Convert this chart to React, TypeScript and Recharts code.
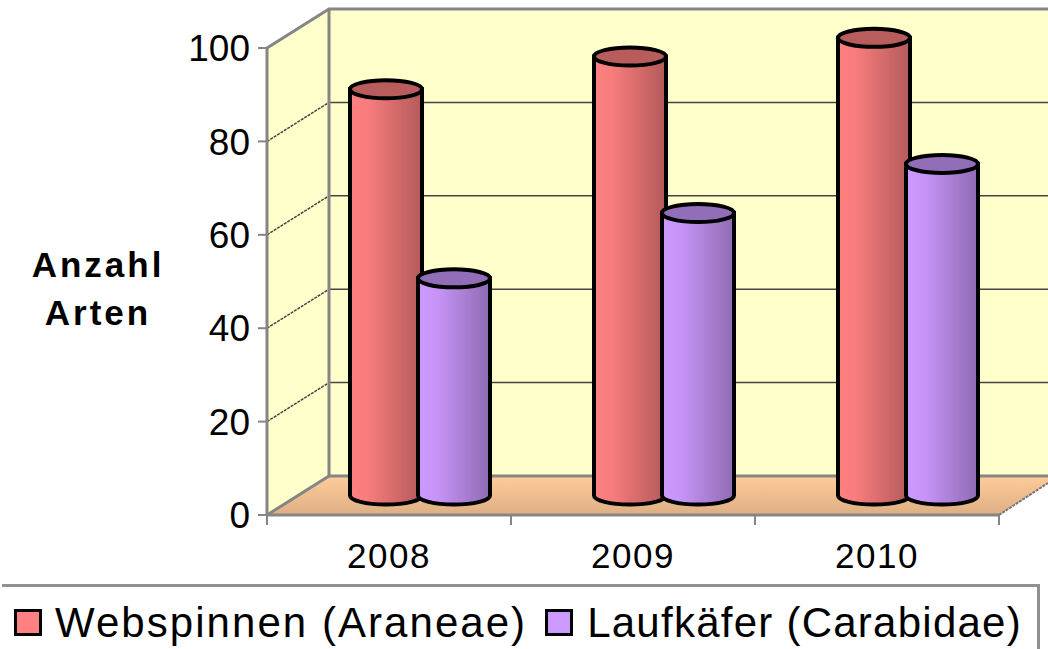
import { Bar, BarChart, Legend, XAxis, YAxis, usePlotArea } from "recharts";

const years = ["2008", "2009", "2010"];
const webspinnen = [87, 94, 98];
const laufkaefer = [46.5, 60.5, 71];
const yTicks = [0, 20, 40, 60, 80, 100];

const data = years.map((year, i) => ({
  year,
  webspinnen: webspinnen[i],
  laufkaefer: laufkaefer[i],
}));

const FONT = "'Liberation Sans', Arial, sans-serif";

// depth of the fake 3D box, in pixels
const DEPTH_X = 62;
const DEPTH_Y = 39;

// the two legend labels are stretched differently in the picture
const LEGEND_SPACING = [2.05, 1.25];

// Walls, floor and gridlines sit behind the bars, shifted back by the depth
function Box3D() {
  const plot = usePlotArea();
  if (!plot) return null;
  const { x, y, width, height } = plot;
  const bottom = y + height;
  const right = x + width;
  const bx = x + DEPTH_X;
  const by = y - DEPTH_Y;
  const bBottom = bottom - DEPTH_Y;
  const band = width / years.length;
  return (
    <g>
      <polygon points={`${bx},${by} 1048,${by} 1048,${bBottom} ${bx},${bBottom}`} fill="#FFFFCC" />
      <polygon points={`${x},${y} ${bx},${by} ${bx},${bBottom} ${x},${bottom}`} fill="#FFFFCC" />
      <polygon
        points={`${x},${bottom} ${bx},${bBottom} 1048,${bBottom} 1048,${bottom - 32} ${right},${bottom}`}
        fill="url(#floorFill)"
      />
      {yTicks.slice(1, -1).map((t) => {
        const py = bottom - (t / 100) * height;
        return (
          <g key={t} stroke="#444" strokeWidth={1.5}>
            <line x1={x} y1={py} x2={bx} y2={py - DEPTH_Y} strokeDasharray="3 1" />
            <line x1={bx} y1={py - DEPTH_Y} x2={1048} y2={py - DEPTH_Y} />
          </g>
        );
      })}
      <g stroke="#858585" strokeWidth={3} fill="none">
        <polyline points={`${x},${y} ${bx},${by} 1048,${by}`} />
        <line x1={bx} y1={by} x2={bx} y2={bBottom} />
        <line x1={bx} y1={bBottom} x2={1048} y2={bBottom} />
        <line x1={x} y1={bottom} x2={bx} y2={bBottom} />
      </g>
      <line x1={right} y1={bottom} x2={1048} y2={bottom - 32} stroke="#777" strokeWidth={2} strokeDasharray="3 1" />
      {/* category boundary ticks */}
      {[0, 1, 2, 3].map((i) => (
        <line
          key={i}
          x1={x + band * i}
          y1={bottom}
          x2={x + band * i}
          y2={bottom + 10}
          stroke="#858585"
          strokeWidth={2}
        />
      ))}
    </g>
  );
}

function Cylinder(props: any) {
  const { x, y, width, height, gradient, capFill } = props;
  const ry = 9;
  const rx = width / 2;
  const left = x + DEPTH_X / 2;
  const top = y - DEPTH_Y / 2;
  const base = top + height;
  const body = `M${left},${top} L${left},${base} A${rx},${ry} 0 0 0 ${left + width},${base} L${left + width},${top} Z`;
  return (
    <g stroke="#000" strokeWidth={4}>
      <path d={body} fill={`url(#${gradient})`} />
      <ellipse cx={left + rx} cy={top} rx={rx} ry={ry} fill={capFill} />
    </g>
  );
}

function LegendBox(props: any) {
  const items = props.payload || [];
  return (
    <div
      style={{
        boxSizing: "border-box",
        width: 1038,
        height: 65,
        marginLeft: 2,
        paddingTop: 9,
        borderTop: "3px solid #909090",
        borderRight: "3px solid #909090",
        display: "flex",
        alignItems: "center",
        fontFamily: FONT,
        fontSize: 42,
        color: "#000",
        whiteSpace: "nowrap",
      }}
    >
      {items.map((item: any, i: number) => (
        <span
          key={i}
          style={{
            display: "flex",
            alignItems: "center",
            marginLeft: i === 0 ? 12 : 18,
            letterSpacing: LEGEND_SPACING[i],
          }}
        >
          <span
            style={{
              display: "inline-block",
              boxSizing: "border-box",
              width: 28,
              height: 27,
              background: item.color,
              border: "3px solid #000",
              marginRight: i === 0 ? 13 : 14,
            }}
          />
          {item.value}
        </span>
      ))}
    </div>
  );
}

export default function App() {
  return (
    <div style={{ position: "absolute", left: 0, top: 0, width: 1048, height: 649, background: "#fff" }}>
      <BarChart
        width={1048}
        height={649}
        data={data}
        margin={{ top: 48, right: 49, bottom: 0, left: 0 }}
        barSize={72}
        barGap={-4}
      >
        <defs>
          <linearGradient id="redFill" x1="0" y1="0" x2="1" y2="0">
            <stop offset="0" stopColor="#FF8080" />
            <stop offset="0.25" stopColor="#F87C7C" />
            <stop offset="1" stopColor="#B35A5A" />
          </linearGradient>
          <linearGradient id="purpleFill" x1="0" y1="0" x2="1" y2="0">
            <stop offset="0" stopColor="#CC99FF" />
            <stop offset="0.25" stopColor="#C795F8" />
            <stop offset="1" stopColor="#8F6BB3" />
          </linearGradient>
          <linearGradient id="floorFill" x1="0" y1="0" x2="0" y2="1">
            <stop offset="0" stopColor="#FFCC99" />
            <stop offset="1" stopColor="#DCAF84" />
          </linearGradient>
        </defs>
        <Box3D />
        <XAxis
          dataKey="year"
          height={134}
          axisLine={{ stroke: "#858585", strokeWidth: 3 }}
          tickLine={false}
          tickMargin={22}
          tick={{ fontFamily: FONT, fontSize: 35, fill: "#000", letterSpacing: 1.5 }}
        />
        <YAxis
          width={267}
          domain={[0, 100]}
          ticks={yTicks}
          interval={0}
          axisLine={{ stroke: "#858585", strokeWidth: 3 }}
          tickLine={{ stroke: "#858585", strokeWidth: 2 }}
          tickSize={9}
          tickMargin={8}
          tick={{ fontFamily: FONT, fontSize: 37, fill: "#000" }}
        />
        <text x={98} y={277} textAnchor="middle" fontFamily={FONT} fontSize={35} fontWeight="bold" letterSpacing={3}>
          Anzahl
        </text>
        <text x={98} y={325} textAnchor="middle" fontFamily={FONT} fontSize={35} fontWeight="bold" letterSpacing={3}>
          Arten
        </text>
        <Bar
          dataKey="webspinnen"
          name="Webspinnen (Araneae)"
          fill="#FF8080"
          isAnimationActive={false}
          shape={(p: any) => <Cylinder {...p} gradient="redFill" capFill="#B85C5C" />}
        />
        <Bar
          dataKey="laufkaefer"
          name="Laufkäfer (Carabidae)"
          fill="#CC99FF"
          isAnimationActive={false}
          shape={(p: any) => <Cylinder {...p} gradient="purpleFill" capFill="#936EB8" />}
        />
        <Legend
          layout="horizontal"
          verticalAlign="middle"
          align="center"
          itemSorter={null}
          wrapperStyle={{ position: "absolute", left: 0, top: 584, width: 1040, height: 65 }}
          content={(p: any) => <LegendBox {...p} />}
        />
      </BarChart>
    </div>
  );
}
